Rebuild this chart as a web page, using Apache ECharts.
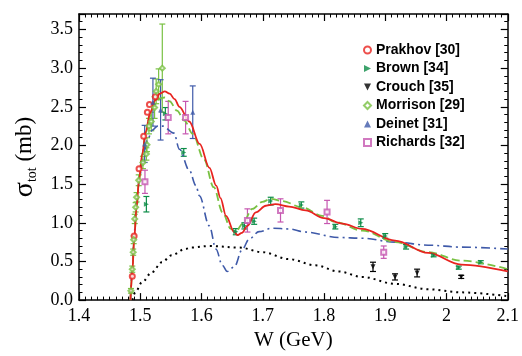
<!DOCTYPE html>
<html><head><meta charset="utf-8">
<script src="https://cdn.jsdelivr.net/npm/echarts@6/dist/echarts.min.js"></script>
<style>html,body{margin:0;padding:0;background:#fff}#c{width:522px;height:356px}</style>
</head><body><div id="c"></div>
<script>
// ---- tick labels ----
const xTickLabels = ['1.4','1.5','1.6','1.7','1.8','1.9','2','2.1'];
const yTickLabels = ['0.0','0.5','1.0','1.5','2.0','2.5','3.0','3.5'];

// ---- model curves ----
const fullW = [1.484,1.487,1.490,1.494,1.498,1.503,1.509,1.516,1.524,1.532,1.540,1.548,1.556,1.564,1.580,1.597,1.613,1.624,1.631,1.640,1.6534,1.6587,1.666,1.675,1.6886,1.705,1.721,1.743,1.770,1.800,1.830,1.862,1.916,1.970,2.024,2.100];
const fullS = [0.00,0.35,0.78,1.20,1.55,1.88,2.18,2.42,2.58,2.67,2.70,2.67,2.60,2.50,2.31,2.02,1.71,1.48,1.32,1.09,0.88,0.84,0.87,0.96,1.135,1.22,1.24,1.21,1.16,1.06,0.99,0.92,0.77,0.61,0.46,0.37];

const altW = [1.484,1.487,1.490,1.494,1.498,1.503,1.509,1.516,1.524,1.532,1.540,1.548,1.560,1.572,1.5857,1.604,1.620,1.6344,1.648,1.656,1.6669,1.683,1.6993,1.713,1.7318,1.764,1.797,1.8185,1.862,1.916,1.970,2.024,2.100];
const altS = [0.00,0.35,0.78,1.20,1.55,1.88,2.16,2.38,2.53,2.61,2.62,2.57,2.45,2.32,2.15,1.82,1.46,1.135,0.92,0.885,0.985,1.18,1.27,1.31,1.28,1.20,1.09,1.01,0.90,0.75,0.62,0.51,0.40];

const noResW = [1.484,1.487,1.490,1.494,1.499,1.505,1.512,1.520,1.528,1.5365,1.555,1.564,1.580,1.591,1.5965,1.6128,1.6236,1.634,1.642,1.6534,1.6669,1.6778,1.6939,1.7155,1.7427,1.7698,1.8239,1.862,1.916,1.970,2.024,2.100];
const noResS = [0.00,0.40,0.85,1.25,1.60,1.88,2.08,2.20,2.25,2.25,2.16,1.95,1.68,1.48,1.35,0.96,0.66,0.45,0.37,0.43,0.66,0.79,0.885,0.93,0.92,0.88,0.81,0.80,0.75,0.71,0.685,0.66];

const bgW = [1.487,1.4919,1.5028,1.519,1.5353,1.5515,1.573,1.584,1.613,1.6615,1.6993,1.7427,1.786,1.8239,1.862,1.916,1.970,2.024,2.100];
const bgS = [0.00,0.10,0.23,0.36,0.49,0.58,0.66,0.68,0.70,0.68,0.62,0.53,0.45,0.37,0.30,0.21,0.14,0.10,0.05];

// ---- data sets ----
const prakhovW = [1.487,1.490,1.498,1.5056,1.5116,1.515,1.5246];
const prakhovS = [0.31,0.83,1.70,2.12,2.43,2.53,2.63];

const brownW = [1.510,1.541,1.571,1.656,1.670,1.686,1.713,1.763,1.8185,1.860,1.900,1.934,1.979,2.020,2.056];
const brownS = [1.24,2.41,1.91,0.885,0.96,1.02,1.28,1.23,0.95,1.00,0.83,0.69,0.58,0.42,0.49];
const brownE = [0.10,0.08,0.05,0.04,0.04,0.04,0.05,0.04,0.03,0.05,0.03,0.03,0.02,0.02,0.02];

const crouchW = [1.880,1.916,1.952,2.024];
const crouchS = [0.43,0.30,0.35,0.30];
const crouchE = [0.06,0.04,0.05,0.02];

const morrisonW = [1.4848,1.4870,1.4885,1.4893,1.4910,1.4925,1.4940,1.4975,1.5044,1.5100,1.5110,1.5142,1.5180,1.5234,1.5260,1.5300,1.5360];
const morrisonS = [0.12,0.40,0.62,0.78,1.05,1.20,1.33,1.55,1.78,1.89,2.01,2.25,2.31,2.49,2.70,2.79,3.00];
const morrisonE = [0.03,0.04,0.04,0.05,0.06,0.06,0.06,0.07,0.08,0.08,0.09,0.10,0.12,0.14,0.16,0.20,0.57];

const deinetW = [1.5072,1.5207,1.5332,1.5857];
const deinetS = [2.02,2.56,2.46,2.43];
const deinetE = [0.24,0.31,0.39,0.34];

const richardsW = [1.5077,1.5457,1.574,1.675,1.729,1.805,1.8975];
const richardsS = [1.53,2.36,2.36,1.03,1.16,1.14,0.62];
const richardsE = [0.15,0.21,0.21,0.15,0.15,0.15,0.08];

// ---- helpers ----
const zip2 = (a,b) => a.map((v,i)=>[v,b[i]]);
const zip3 = (a,b,c) => a.map((v,i)=>[v,b[i],c[i]]);
const serif = 'Liberation Serif';
const C = {red:'#e8231f', dgreen:'#0c8c47', lgreen:'#79c143', blue:'#3f5aa9', mag:'#c657b0', black:'#000'};

function errSeries(W,S,E,color){
  return {
    type:'custom', name:'_err', xAxisIndex:0, yAxisIndex:0, z:3,
    data: zip3(W,S,E),
    renderItem: function(params, api){
      const x=api.value(0), y=api.value(1), e=api.value(2);
      const t=api.coord([x,y+e]), b=api.coord([x,y-e]);
      const cw=3;
      const st={stroke:color, lineWidth:1.2};
      return {type:'group', children:[
        {type:'line', shape:{x1:t[0],y1:t[1],x2:b[0],y2:b[1]}, style:st},
        {type:'line', shape:{x1:t[0]-cw,y1:t[1],x2:t[0]+cw,y2:t[1]}, style:st},
        {type:'line', shape:{x1:b[0]-cw,y1:b[1],x2:b[0]+cw,y2:b[1]}, style:st}
      ]};
    },
    silent:true
  };
}
function lineSeries(W,S,color,type,width){
  return {type:'line', data:zip2(W,S), showSymbol:false, smooth:0.35, smoothMonotone:'x',
    lineStyle:{color:color, width:width, type:type}, z:4, silent:true};
}
const triR = 'path://M0,0L10,5L0,10Z';
const triD = 'path://M0,0L10,0L5,10Z';

const tickStyle = {color:'#000', width:1.2};
function xAxisDef(pos, labels){
  return {type:'value', position:pos, min:1.4, max:2.1, interval:0.1,
    axisLine:{show:true, onZero:false, lineStyle:{color:'#000', width:1.5}},
    axisTick:{show:true, inside:true, length:7, lineStyle:tickStyle},
    minorTick:{show:true, splitNumber:10, length:3.5, lineStyle:{color:'#000', width:1}},
    splitLine:{show:false},
    axisLabel:{show:labels, margin:7, color:'#000', fontFamily:serif, fontSize:18,
      formatter: v => xTickLabels[Math.round((v-1.4)/0.1)] || ''},
    name: labels ? 'W (GeV)' : '', nameLocation:'middle', nameGap:29,
    nameTextStyle:{color:'#000', fontFamily:serif, fontSize:21}
  };
}
function yAxisDef(pos, labels){
  return {type:'value', position:pos, min:0, max:3.7, interval:0.5,
    axisLine:{show:true, onZero:false, lineStyle:{color:'#000', width:1.5}},
    axisTick:{show:true, inside:true, length:7, lineStyle:tickStyle},
    splitLine:{show:false},
    axisLabel:{show:labels, margin:6, color:'#000', fontFamily:serif, fontSize:18,
      formatter: v => { const i=Math.round(v/0.5); return Math.abs(v-i*0.5)<1e-6 ? (yTickLabels[i]||'') : ''; }},
    name: labels ? '{s|σ}{sub|tot}{u| (mb)}' : '', nameLocation:'middle', nameGap:40, nameRotate:90,
    nameTextStyle:{color:'#000', fontFamily:serif,
      rich:{s:{fontSize:28, fontFamily:serif, color:'#000'},
            sub:{fontSize:14, fontFamily:serif, color:'#000', verticalAlign:'bottom', padding:[12,0,0,0]},
            u:{fontSize:23, fontFamily:serif, color:'#000'}}}
  };
}
function yMinorDef(pos){
  return {type:'value', position:pos, min:0, max:3.7, interval:0.1,
    axisLine:{show:false}, axisLabel:{show:false}, splitLine:{show:false},
    axisTick:{show:true, inside:true, length:3.5, lineStyle:{color:'#000', width:1}}};
}

const chart = echarts.init(document.getElementById('c'), null, {renderer:'canvas'});
chart.setOption({
  animation:false,
  backgroundColor:'#fff',
  grid:{left:79, right:12, top:14, bottom:55, containLabel:false},
  xAxis:[xAxisDef('bottom', true), xAxisDef('top', false)],
  yAxis:[yAxisDef('left', true), yAxisDef('right', false), yMinorDef('left'), yMinorDef('right')],
  legend:{
    orient:'vertical', left:358, top:38, itemGap:4.5, itemWidth:7, itemHeight:7,
    textStyle:{fontFamily:'Liberation Sans', fontWeight:'bold', fontSize:14, color:'#000', lineHeight:14},
    data:[
      {name:'Prakhov [30]', icon:'emptyCircle'},
      {name:'Brown [34]', icon:triR},
      {name:'Crouch [35]', icon:triD},
      {name:'Morrison [29]', icon:'emptyDiamond'},
      {name:'Deinet [31]', icon:'triangle'},
      {name:'Richards [32]', icon:'emptyRect'}
    ]
  },
  series:[
    lineSeries(bgW, bgS, '#000', [2,4], 2),
    lineSeries(noResW, noResS, C.blue, [9,4,2,4], 1.6),
    lineSeries(altW, altS, C.lgreen, [8,4], 1.8),
    lineSeries(fullW, fullS, C.red, 'solid', 1.8),
    errSeries(brownW, brownS, brownE, C.dgreen),
    errSeries(crouchW, crouchS, crouchE, C.black),
    errSeries(morrisonW, morrisonS, morrisonE, C.lgreen),
    errSeries(deinetW, deinetS, deinetE, C.blue),
    errSeries(richardsW, richardsS, richardsE, C.mag),
    {type:'scatter', name:'Prakhov [30]', data:zip2(prakhovW,prakhovS), symbol:'emptyCircle', symbolSize:5,
      itemStyle:{color:C.red, borderColor:C.red, borderWidth:1.2}, z:5},
    {type:'scatter', name:'Brown [34]', data:zip2(brownW,brownS), symbol:triR, symbolSize:5,
      itemStyle:{color:C.dgreen}, z:5},
    {type:'scatter', name:'Crouch [35]', data:zip2(crouchW,crouchS), symbol:triD, symbolSize:5,
      itemStyle:{color:'#000'}, z:5},
    {type:'scatter', name:'Morrison [29]', data:zip2(morrisonW,morrisonS), symbol:'emptyDiamond', symbolSize:5,
      itemStyle:{color:C.lgreen, borderColor:C.lgreen, borderWidth:1.2}, z:5},
    {type:'scatter', name:'Deinet [31]', data:zip2(deinetW,deinetS), symbol:'triangle', symbolSize:5,
      itemStyle:{color:C.blue}, z:5},
    {type:'scatter', name:'Richards [32]', data:zip2(richardsW,richardsS), symbol:'emptyRect', symbolSize:5,
      itemStyle:{color:C.mag, borderColor:C.mag, borderWidth:1.2}, z:5}
  ]
});
</script></body></html>
